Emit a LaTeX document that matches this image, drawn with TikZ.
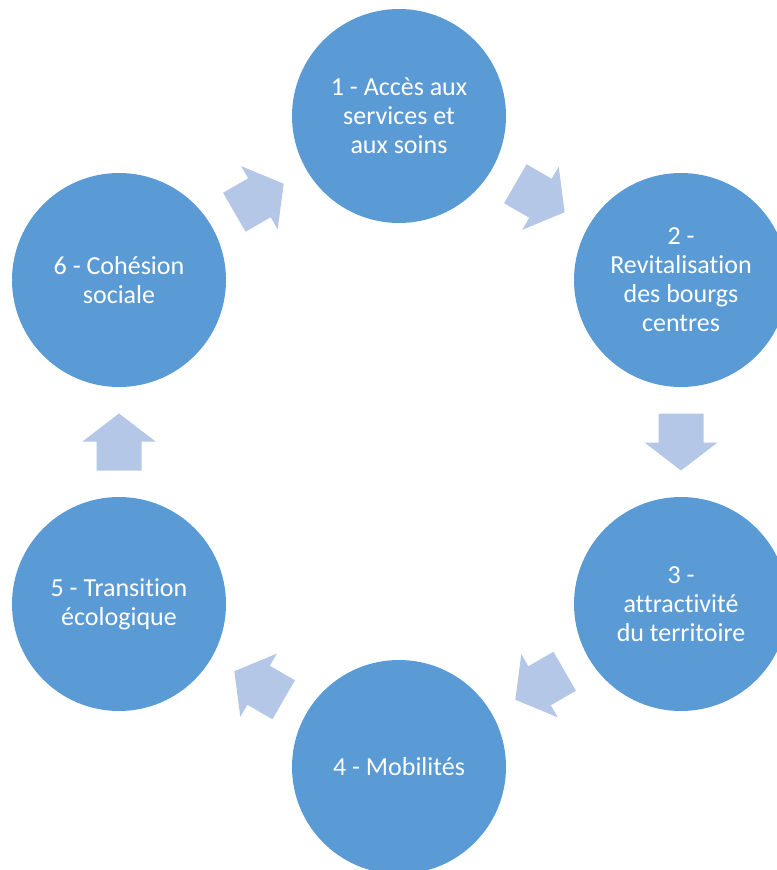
\documentclass[tikz,border=0pt]{standalone}
\usepackage{fontspec}
\setmainfont{Carlito}[Ligatures=NoCommon, RawFeature={-liga;-clig;-dlig}]
\definecolor{circfill}{HTML}{5B9BD5}
\definecolor{arrfill}{HTML}{B4C7E7}
\tikzset{
  circ/.style={circle, fill=circfill, draw=none, minimum size=160.5pt, inner sep=0pt,
    text=white, align=center, font=\fontsize{19.5pt}{21.75pt}\selectfont},
  blockarrow/.pic={
    \fill[arrfill] (-28.5,-22.5) -- (0.5,-22.5) -- (0.5,-36.5) -- (28.5,0)
      -- (0.5,36.5) -- (0.5,22.5) -- (-28.5,22.5) -- cycle;
  }
}
\begin{document}
\begin{tikzpicture}[x=0.75pt, y=-0.75pt]
\clip (0,0) rectangle (777,870);
\fill[white] (0,0) rectangle (777,870);
\node[circ] (c1) at (399,116) {1 - Accès aux\\services et\\aux soins};
\node[circ] (c2) at (681,280) {2 -\\Revitalisation\\des bourgs\\centres};
\node[circ] (c3) at (681,604) {3 -\\attractivité\\du territoire};
\node[circ] (c4) at (399,767) {4 - Mobilités};
\node[circ] (c5) at (119,604) {5 - Transition\\écologique};
\node[circ] (c6) at (119,280) {6 - Cohésion\\sociale};
\path (c1.center) -- (c2.center) pic[pos=0.5, rotate=-30] {blockarrow};
\path (c2.center) -- (c3.center) pic[pos=0.5, rotate=-90] {blockarrow};
\path (c3.center) -- (c4.center) pic[pos=0.5, rotate=-150] {blockarrow};
\path (c4.center) -- (c5.center) pic[pos=0.5, rotate=150] {blockarrow};
\path (c5.center) -- (c6.center) pic[pos=0.5, rotate=90] {blockarrow};
\path (c6.center) -- (c1.center) pic[pos=0.5, rotate=30] {blockarrow};
\end{tikzpicture}
\end{document}
